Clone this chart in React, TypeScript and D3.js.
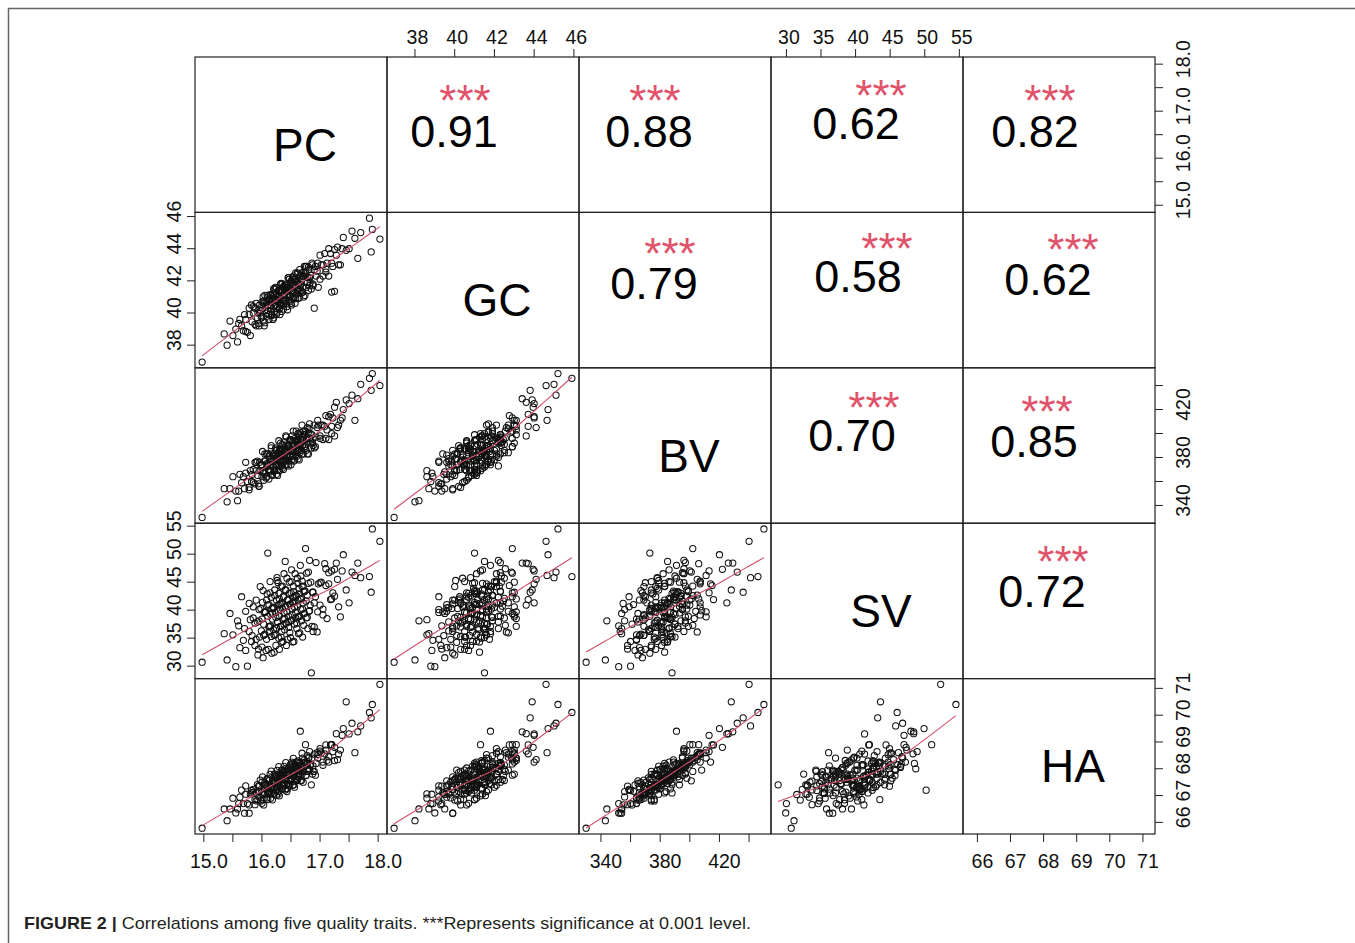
import React from 'react'
import * as d3 from 'd3'

// Trait names (diagonal labels), in panel order
const traits = ['PC', 'GC', 'BV', 'SV', 'HA']

// One value per sample
const pc = [
  14.97, 15.35, 15.40, 15.45, 15.50, 15.55, 15.58, 15.62, 15.65, 15.68,
  15.70, 15.72, 15.75, 15.78, 15.80, 15.82, 15.85, 15.88, 15.90, 15.92,
  15.93, 15.95, 15.96, 15.97, 15.99, 16.00, 16.01, 16.02, 16.03, 16.04,
  16.05, 16.06, 16.08, 16.09, 16.10, 16.10, 16.11, 16.12, 16.13, 16.14,
  16.15, 16.15, 16.16, 16.17, 16.18, 16.19, 16.20, 16.20, 16.21, 16.22,
  16.23, 16.24, 16.25, 16.25, 16.26, 16.27, 16.28, 16.29, 16.30, 16.30,
  16.31, 16.32, 16.33, 16.34, 16.35, 16.35, 16.36, 16.37, 16.38, 16.38,
  16.39, 16.40, 16.40, 16.41, 16.42, 16.43, 16.44, 16.45, 16.45, 16.46,
  16.47, 16.48, 16.49, 16.50, 16.50, 16.51, 16.52, 16.53, 16.54, 16.55,
  16.56, 16.57, 16.58, 16.59, 16.60, 16.61, 16.62, 16.63, 16.64, 16.65,
  16.66, 16.67, 16.68, 16.69, 16.70, 16.71, 16.72, 16.73, 16.74, 16.75,
  16.76, 16.77, 16.78, 16.79, 16.80, 16.81, 16.82, 16.83, 16.85, 16.87,
  16.88, 16.90, 16.92, 16.95, 16.97, 17.00, 17.02, 17.05, 17.08, 17.10,
  17.12, 17.15, 17.18, 17.20, 17.22, 17.25, 17.28, 17.30, 17.35, 17.40,
  17.45, 17.50, 17.55, 17.60, 17.65, 17.70, 17.85, 17.88, 17.90, 18.03,
  15.85, 15.90, 15.95, 16.00, 16.02, 16.05, 16.07, 16.10, 16.12, 16.14,
  16.16, 16.18, 16.20, 16.21, 16.22, 16.24, 16.25, 16.26, 16.27, 16.28,
  16.29, 16.30, 16.31, 16.32, 16.33, 16.34, 16.35, 16.36, 16.37, 16.38,
  16.39, 16.40, 16.41, 16.42, 16.43, 16.44, 16.45, 16.46, 16.47, 16.48,
  16.49, 16.50, 16.51, 16.52, 16.53, 16.54, 16.55, 16.56, 16.57, 16.58,
  16.59, 16.60, 16.61, 16.62, 16.63, 16.64, 16.65, 16.66, 16.67, 16.68,
  16.69, 16.70, 16.72, 16.74, 16.76, 16.78, 16.80, 16.82, 16.84, 16.86,
  16.88, 16.90, 16.93, 16.96, 17.00, 17.05, 17.10, 17.15, 17.20, 17.25,
  17.32, 17.38, 15.60, 15.72, 15.78, 15.83, 15.88, 15.94, 15.98, 16.03,
  16.08, 16.13, 16.17, 16.23, 16.28, 16.33, 16.44, 16.53, 16.62, 16.71,
]

const gc = [
  36.95, 38.7, 38.0, 39.5, 38.6, 39.0, 38.2, 39.6, 39.2, 38.9,
  39.9, 39.6, 38.8, 39.9, 38.6, 40.5, 40.0, 39.3, 40.6, 39.7,
  40.0, 39.2, 40.5, 40.0, 39.7, 40.7, 40.3, 39.5, 40.6, 39.2,
  41.1, 40.5, 39.8, 41.1, 41.0, 40.15, 40.5, 39.6, 40.9, 40.5,
  40.1, 41.1, 40.7, 39.9, 41.0, 39.6, 41.5, 40.9, 40.1, 41.5,
  40.5, 40.8, 39.9, 41.2, 40.8, 40.4, 41.4, 41.0, 40.3, 41.3,
  39.9, 41.8, 41.25, 40.5, 41.8, 40.8, 41.1, 40.25, 41.6, 41.1,
  40.7, 41.7, 41.5, 41.4, 40.6, 41.6, 40.2, 42.2, 41.6, 40.8,
  42.1, 41.1, 41.5, 40.6, 41.9, 41.4, 41.0, 42.1, 41.7, 40.9,
  42.0, 40.6, 42.5, 41.9, 41.2, 42.5, 41.5, 41.8, 40.95, 42.3,
  41.8, 41.4, 42.5, 42.1, 41.3, 42.3, 41.0, 42.9, 42.3, 42.9,
  41.6, 42.9, 41.9, 42.2, 41.4, 42.7, 42.2, 41.9, 41.5, 43.0,
  41.8, 40.3, 42.9, 42.6, 41.6, 43.6, 43.0, 42.3, 43.7, 42.75,
  43.1, 42.3, 43.7, 41.3, 42.9, 41.35, 43.6, 44.1, 43.0, 44.7,
  43.9, 44.0, 45.1, 44.65, 43.4, 45.0, 45.9, 43.8, 45.2, 44.6,
  40.4, 39.2, 40.2, 39.8, 41.0, 39.4, 40.7, 40.45, 39.9, 41.15,
  40.3, 40.85, 39.7, 41.25, 40.8, 40.3, 41.55, 40.05, 41.1, 40.7,
  41.35, 40.25, 41.1, 40.6, 41.85, 40.1, 41.4, 40.8, 41.65, 40.6,
  41.2, 41.8, 40.75, 41.5, 40.4, 41.75, 41.15, 42.2, 40.7, 41.55,
  41.05, 42.0, 40.5, 41.85, 41.25, 42.3, 41.0, 41.65, 42.1, 40.9,
  41.9, 41.45, 42.4, 40.9, 41.85, 41.35, 42.7, 41.7, 42.35, 41.25,
  42.1, 41.6, 42.55, 41.1, 42.45, 41.9, 42.85, 41.7, 42.35, 43.1,
  41.7, 42.7, 42.3, 43.1, 42.1, 43.0, 42.55, 44.0, 43.1, 43.95,
  43.0, 44.0, 39.35, 38.85, 40.3, 39.45, 40.3, 39.35, 40.15, 40.75,
  40.0, 40.85, 39.85, 41.6, 41.0, 40.55, 41.35, 42.2, 41.4, 42.25,
]

const bv = [
  330, 354, 343, 354, 364, 352, 344, 366, 359, 364,
  354, 376, 360, 353, 369, 360, 370, 358, 369, 377,
  365, 356, 376, 369, 373, 364, 385, 368, 361, 377,
  367, 377, 364, 375, 373, 383, 370, 362, 382, 374,
  379, 369, 390, 373, 366, 382, 372, 381, 369, 379,
  387, 374, 366, 386, 378, 382, 373, 394, 377, 369,
  386, 376, 385, 373, 383, 391, 378, 370, 390, 382,
  386, 377, 385, 398, 381, 374, 390, 380, 389, 377,
  387, 395, 382, 374, 394, 386, 390, 381, 402, 385,
  378, 394, 384, 394, 381, 391, 400, 387, 378, 399,
  391, 395, 386, 407, 390, 383, 399, 389, 399, 402,
  386, 396, 405, 392, 383, 404, 396, 400, 388, 392,
  396, 388, 389, 405, 407, 398, 407, 395, 406, 415,
  403, 395, 416, 400, 413, 398, 426, 405, 411, 420,
  428, 425, 432, 411, 429, 441, 446, 436, 450, 440,
  359, 376, 356, 374, 367, 383, 363, 374, 381, 368,
  388, 365, 379, 383, 369, 388, 374, 379, 365, 384,
  377, 387, 373, 392, 377, 383, 371, 387, 377, 393,
  381, 374, 387, 397, 378, 385, 391, 373, 388, 381,
  395, 386, 378, 398, 385, 392, 377, 390, 396, 382,
  402, 386, 393, 379, 397, 391, 384, 401, 390, 397,
  383, 395, 402, 389, 395, 383, 401, 408, 393, 399,
  390, 407, 397, 411, 396, 407, 396, 414, 406, 422,
  407, 413, 352, 367, 355, 366, 376, 358, 374, 369,
  383, 369, 377, 381, 370, 387, 380, 393, 385, 397,
]

const sv = [
  30.7, 35.8, 31.1, 39.4, 35.6, 29.9, 38.1, 33.3, 42.4, 34.6,
  36.7, 39.8, 30.0, 36.2, 38.3, 34.4, 38.6, 33.7, 41.8, 37.9,
  32.0, 40.1, 35.2, 44.2, 36.3, 38.4, 41.4, 31.5, 37.5, 39.6,
  35.7, 39.7, 34.8, 42.9, 50.2, 38.9, 33.0, 41.0, 36.1, 45.1,
  37.2, 39.2, 42.3, 32.3, 38.4, 40.4, 36.5, 40.5, 35.5, 43.6,
  39.6, 33.7, 41.8, 36.8, 45.8, 37.9, 39.9, 43.0, 33.0, 39.0,
  41.1, 37.1, 41.2, 36.2, 44.3, 40.3, 34.4, 42.4, 37.5, 46.5,
  38.5, 40.6, 48.7, 43.6, 33.7, 39.7, 41.8, 37.9, 41.9, 36.9,
  45.0, 41.0, 35.1, 43.1, 38.1, 47.2, 39.2, 41.3, 44.3, 34.4,
  40.5, 42.5, 38.6, 42.6, 37.7, 45.7, 41.8, 35.8, 43.9, 38.9,
  48.0, 40.1, 42.1, 45.2, 35.2, 41.3, 43.3, 39.4, 43.4, 51.0,
  38.6, 46.6, 42.7, 36.7, 44.8, 39.8, 48.9, 40.9, 28.8, 43.2,
  36.2, 37.0, 42.4, 36.1, 44.7, 40.9, 45.0, 40.2, 48.3, 44.4,
  38.5, 46.7, 41.9, 47.0, 43.1, 42.5, 48.4, 45.5, 38.8, 49.9,
  43.6, 41.3, 46.8, 46.2, 48.4, 45.8, 46.0, 43.2, 54.5, 52.3,
  40.6, 34.8, 38.1, 33.4, 43.5, 39.7, 32.8, 40.9, 37.0, 43.1,
  35.3, 39.4, 40.5, 32.5, 42.6, 38.7, 36.75, 45.3, 37.9, 40.9,
  35.0, 42.0, 40.1, 37.1, 44.2, 34.25, 41.3, 38.35, 42.4, 39.5,
  36.5, 43.6, 40.6, 37.7, 45.7, 34.8, 41.85, 38.9, 43.0, 36.0,
  41.1, 45.1, 38.2, 40.2, 34.3, 43.3, 41.4, 37.5, 46.5, 39.6,
  42.6, 36.7, 40.7, 44.8, 38.8, 42.9, 35.95, 42.0, 46.1, 38.1,
  44.2, 40.2, 37.3, 43.4, 41.6, 38.7, 46.8, 39.9, 45.0, 37.1,
  43.2, 41.3, 48.5, 39.7, 44.9, 39.15, 47.4, 44.7, 42.0, 47.3,
  40.6, 47.0, 37.2, 32.8, 41.2, 35.45, 37.7, 33.05, 40.3, 35.5,
  41.8, 37.1, 40.3, 35.6, 44.9, 35.2, 40.8, 42.3, 38.8, 44.3,
]

const ha = [
  65.78, 66.5, 66.06, 66.5, 66.9, 66.35, 66.5, 66.94, 67.2, 66.7,
  66.34, 67.36, 66.7, 66.34, 67.06, 67.19, 67.13, 66.66, 67.1, 67.41,
  66.83, 66.95, 67.36, 67.58, 67.1, 66.71, 67.7, 67.04, 66.65, 67.36,
  67.48, 67.39, 66.91, 67.33, 67.2, 67.64, 67.05, 67.16, 67.58, 67.79,
  67.3, 66.9, 67.91, 67.23, 66.84, 67.55, 67.66, 67.56, 67.08, 67.49,
  67.8, 67.21, 67.33, 67.73, 67.94, 67.45, 67.06, 68.08, 67.39, 66.99,
  67.7, 67.81, 67.73, 67.24, 67.65, 67.95, 67.36, 67.48, 67.89, 68.09,
  67.6, 67.21, 68.0, 68.23, 67.54, 67.15, 67.86, 67.98, 67.88, 67.39,
  67.8, 68.11, 67.53, 67.64, 68.04, 68.25, 67.76, 67.38, 68.39, 67.7,
  67.31, 68.03, 68.14, 68.05, 67.56, 67.98, 68.29, 67.7, 67.81, 68.23,
  69.4, 67.95, 67.56, 68.58, 67.89, 67.5, 68.21, 68.33, 68.24, 68.9,
  67.76, 68.18, 68.49, 67.9, 68.01, 68.43, 68.64, 68.15, 67.4, 67.8,
  68.11, 67.9, 67.76, 68.6, 68.53, 68.66, 68.59, 68.13, 68.56, 68.89,
  68.31, 68.45, 68.89, 68.9, 68.64, 68.3, 69.31, 68.34, 68.7, 69.5,
  70.5, 69.3, 69.7, 68.6, 69.38, 69.6, 70.1, 69.9, 70.4, 71.15,
  67.23, 66.8, 67.15, 67.5, 66.85, 67.1, 67.4, 66.85, 67.56, 67.4,
  67.1, 67.55, 67.05, 67.8, 67.3, 67.5, 67.0, 67.65, 67.45, 67.15,
  67.8, 67.6, 67.3, 67.7, 67.4, 67.95, 67.25, 67.65, 67.8, 67.4,
  67.6, 67.9, 67.25, 67.85, 67.75, 67.45, 68.0, 67.6, 67.8, 67.4,
  68.15, 67.55, 67.95, 67.65, 67.9, 68.1, 67.4, 67.8, 68.05, 67.65,
  68.25, 67.95, 67.6, 68.1, 67.8, 68.2, 67.95, 67.55, 68.15, 68.05,
  67.8, 68.4, 67.9, 68.25, 67.75, 68.2, 68.4, 67.95, 68.15, 68.4,
  67.9, 68.55, 68.2, 68.4, 68.75, 68.25, 68.7, 68.25, 68.9, 68.8,
  68.55, 69.25, 66.7, 67.05, 66.65, 67.1, 66.85, 67.35, 66.8, 67.25,
  67.6, 67.1, 67.35, 67.7, 67.35, 67.75, 67.25, 68.2, 67.7, 68.1,
]

const series = [pc, gc, bv, sv, ha]

// Axis ticks and their labels (blank = tick without label)
const pcTicks = [15.0, 15.5, 16.0, 16.5, 17.0, 17.5, 18.0]
const pcTickLabels = ['15.0', '', '16.0', '', '17.0', '', '18.0']
const gcTicks = [38, 40, 42, 44, 46]
const gcTickLabels = ['38', '40', '42', '44', '46']
const bvTicks = [340, 360, 380, 400, 420, 440]
const bvTickLabels = ['340', '', '380', '', '420', '']
const svTicks = [30, 35, 40, 45, 50, 55]
const svTickLabels = ['30', '35', '40', '45', '50', '55']
const haTicks = [66, 67, 68, 69, 70, 71]
const haTickLabels = ['66', '67', '68', '69', '70', '71']

const ticks = [pcTicks, gcTicks, bvTicks, svTicks, haTicks]
const tickLabels = [pcTickLabels, gcTickLabels, bvTickLabels, svTickLabels, haTickLabels]

// Upper panels: [row, col, r]
const corrCells: [number, number, string][] = [
  [0, 1, '0.91'], [0, 2, '0.88'], [0, 3, '0.62'], [0, 4, '0.82'],
  [1, 2, '0.79'], [1, 3, '0.58'], [1, 4, '0.62'],
  [2, 3, '0.70'], [2, 4, '0.85'],
  [3, 4, '0.72'],
]
const corrStars = '***'

// number dx, dy and stars dx, dy, measured from the panel centre
const corrNudge = [
  [-29, 12, -18, -41], [-26, 12, -20, -41], [-11, 4, 14, -46], [-24, 12, -9, -41],
  [-21, 9, -5, -43], [-9, 2, 20, -48], [-11, 5, 14, -47],
  [-15, 5, 7, -45], [-25, 11, -12, -41],
  [-17, 6, 4, -46],
]

const width = 1355
const height = 943
const grid = { left: 195, right: 1155, top: 57, bottom: 834 }
const font = "'Liberation Sans', Arial, Helvetica, sans-serif"
const red = '#DF536B'

function lowess(x: number[], y: number[], f = 2 / 3, iter = 3): [number, number][] {
  const n = x.length
  const order = d3.range(n).sort((a, b) => x[a] - x[b])
  const xs = order.map(i => x[i])
  const ys = order.map(i => y[i])
  const r = Math.ceil(f * n)
  let robust = new Array(n).fill(1)
  const fit = new Array(n).fill(0)
  for (let it = 0; it <= iter; it++) {
    for (let i = 0; i < n; i++) {
      const d = xs.map(v => Math.abs(v - xs[i]))
      const h = Math.max([...d].sort((a, b) => a - b)[r - 1], 1e-9)
      let sw = 0, swx = 0, swy = 0, swxx = 0, swxy = 0
      for (let j = 0; j < n; j++) {
        const u = d[j] / h
        const w = u < 1 ? Math.pow(1 - u * u * u, 3) * robust[j] : 0
        sw += w; swx += w * xs[j]; swy += w * ys[j]
        swxx += w * xs[j] * xs[j]; swxy += w * xs[j] * ys[j]
      }
      const mx = swx / sw
      const my = swy / sw
      const vx = swxx / sw - mx * mx
      const b = vx > 1e-12 ? (swxy / sw - mx * my) / vx : 0
      fit[i] = my + b * (xs[i] - mx)
    }
    if (it === iter) break
    const res = ys.map((v, i) => v - fit[i])
    const s = d3.median(res.map(Math.abs)) || 1e-9
    robust = res.map(e => {
      const u = e / (6 * s)
      return Math.abs(u) < 1 ? (1 - u * u) ** 2 : 0
    })
  }
  return xs.map((v, i) => [v, fit[i]])
}

export default function App() {
  const cols = d3.scaleBand<string>().domain(traits).range([grid.left, grid.right])
  const rows = d3.scaleBand<string>().domain(traits).range([grid.top, grid.bottom])
  const bw = cols.bandwidth()
  const bh = rows.bandwidth()

  // R-style 4% padded ranges
  const domains = series.map(s => {
    const [lo, hi] = d3.extent(s) as [number, number]
    const pad = (hi - lo) * 0.04
    return [lo - pad, hi + pad]
  })
  const xScales = traits.map((t, j) =>
    d3.scaleLinear().domain(domains[j]).range([cols(t)!, cols(t)! + bw]))
  const yScales = traits.map((t, i) =>
    d3.scaleLinear().domain(domains[i]).range([rows(t)! + bh, rows(t)!]))

  const line = d3.line()

  const scatter: React.ReactNode[] = []
  traits.forEach((_, i) => {
    traits.forEach((__, j) => {
      if (j >= i) return
      const xs = series[j]
      const ys = series[i]
      const sx = xScales[j]
      const sy = yScales[i]
      const smooth = lowess(xs, ys).map(([a, b]) => [sx(a), sy(b)] as [number, number])
      scatter.push(
        <g key={`s-${i}-${j}`}>
          {xs.map((v, k) => (
            <circle key={k} cx={sx(v)} cy={sy(ys[k])} r={3.1}
              fill="none" stroke="#111" strokeWidth={1.05} />
          ))}
          <path d={line(smooth) || ''} fill="none" stroke="#D2506C" strokeWidth={1.1} />
        </g>
      )
    })
  })

  const tickLen = 8
  const axes: React.ReactNode[] = []
  traits.forEach((t, k) => {
    const tv = ticks[k]
    const tl = tickLabels[k]
    // columns: even index -> bottom, odd -> top
    const sx = xScales[k]
    const bottom = k % 2 === 0
    axes.push(
      <g key={`xa-${k}`}>
        {tv.map((v, m) => {
          const x = sx(v)
          const y0 = bottom ? grid.bottom : grid.top
          const y1 = bottom ? y0 + tickLen : y0 - tickLen
          return (
            <g key={m}>
              <line x1={x} x2={x} y1={y0} y2={y1} stroke="#222" strokeWidth={1} />
              {tl[m] && (
                <text x={x + (bottom ? 5 : 2.5)} y={bottom ? 868 : 44} textAnchor="middle"
                  fontSize={19.5} fontFamily={font} fill="#111">{tl[m]}</text>
              )}
            </g>
          )
        })}
      </g>
    )
    // rows: even index -> right, odd -> left
    const sy = yScales[k]
    const right = k % 2 === 0
    axes.push(
      <g key={`ya-${k}`}>
        {tv.map((v, m) => {
          const y = sy(v)
          const x0 = right ? grid.right : grid.left
          const x1 = right ? x0 + tickLen : x0 - tickLen
          const lx = right ? 1190 : 181.5
          const ly = y - 5
          return (
            <g key={m}>
              <line x1={x0} x2={x1} y1={y} y2={y} stroke="#222" strokeWidth={1} />
              {tl[m] && (
                <text x={lx} y={ly} textAnchor="middle" transform={`rotate(-90, ${lx}, ${ly})`}
                  fontSize={19.5} fontFamily={font} fill="#111">{tl[m]}</text>
              )}
            </g>
          )
        })}
      </g>
    )
  })

  return (
    <svg width={width} height={height} viewBox={`0 0 ${width} ${height}`}
      style={{ position: 'absolute', left: 0, top: 0, background: '#fff' }}>
      <rect x={8.5} y={8.5} width={1400} height={1000} fill="none" stroke="#666" strokeWidth={1.5} />

      {scatter}

      {/* diagonal labels */}
      {traits.map(t => (
        <text key={`d-${t}`} x={cols(t)! + bw / 2 + 14} y={rows(t)! + bh / 2 + 26}
          textAnchor="middle" fontSize={46} fontFamily={font} fill="#000">{t}</text>
      ))}

      {/* correlation coefficients */}
      {corrCells.map(([i, j, r], k) => {
        const cx = cols(traits[j])! + bw / 2
        const cy = rows(traits[i])! + bh / 2
        const [ndx, ndy, sdx, sdy] = corrNudge[k]
        return (
          <g key={`c-${k}`}>
            <text x={cx + ndx} y={cy + ndy} textAnchor="middle" fontSize={45}
              fontFamily={font} fill="#000">{r}</text>
            <text x={cx + sdx} y={cy + sdy + 22} textAnchor="middle" fontSize={44}
              fontFamily={font} fill={red}>{corrStars}</text>
          </g>
        )
      })}

      {/* panel borders */}
      {traits.map(ti => traits.map(tj => (
        <rect key={`b-${ti}-${tj}`} x={cols(tj)} y={rows(ti)} width={bw} height={bh}
          fill="none" stroke="#222" strokeWidth={1.2} />
      )))}

      {axes}

      <text x={24} y={929} fontSize={17} fontFamily={font} fill="#231f20"
        textLength={727} lengthAdjust="spacingAndGlyphs">
        <tspan fontWeight="bold">FIGURE 2 | </tspan>
        <tspan>Correlations among five quality traits. ***Represents significance at 0.001 level.</tspan>
      </text>
    </svg>
  )
}
